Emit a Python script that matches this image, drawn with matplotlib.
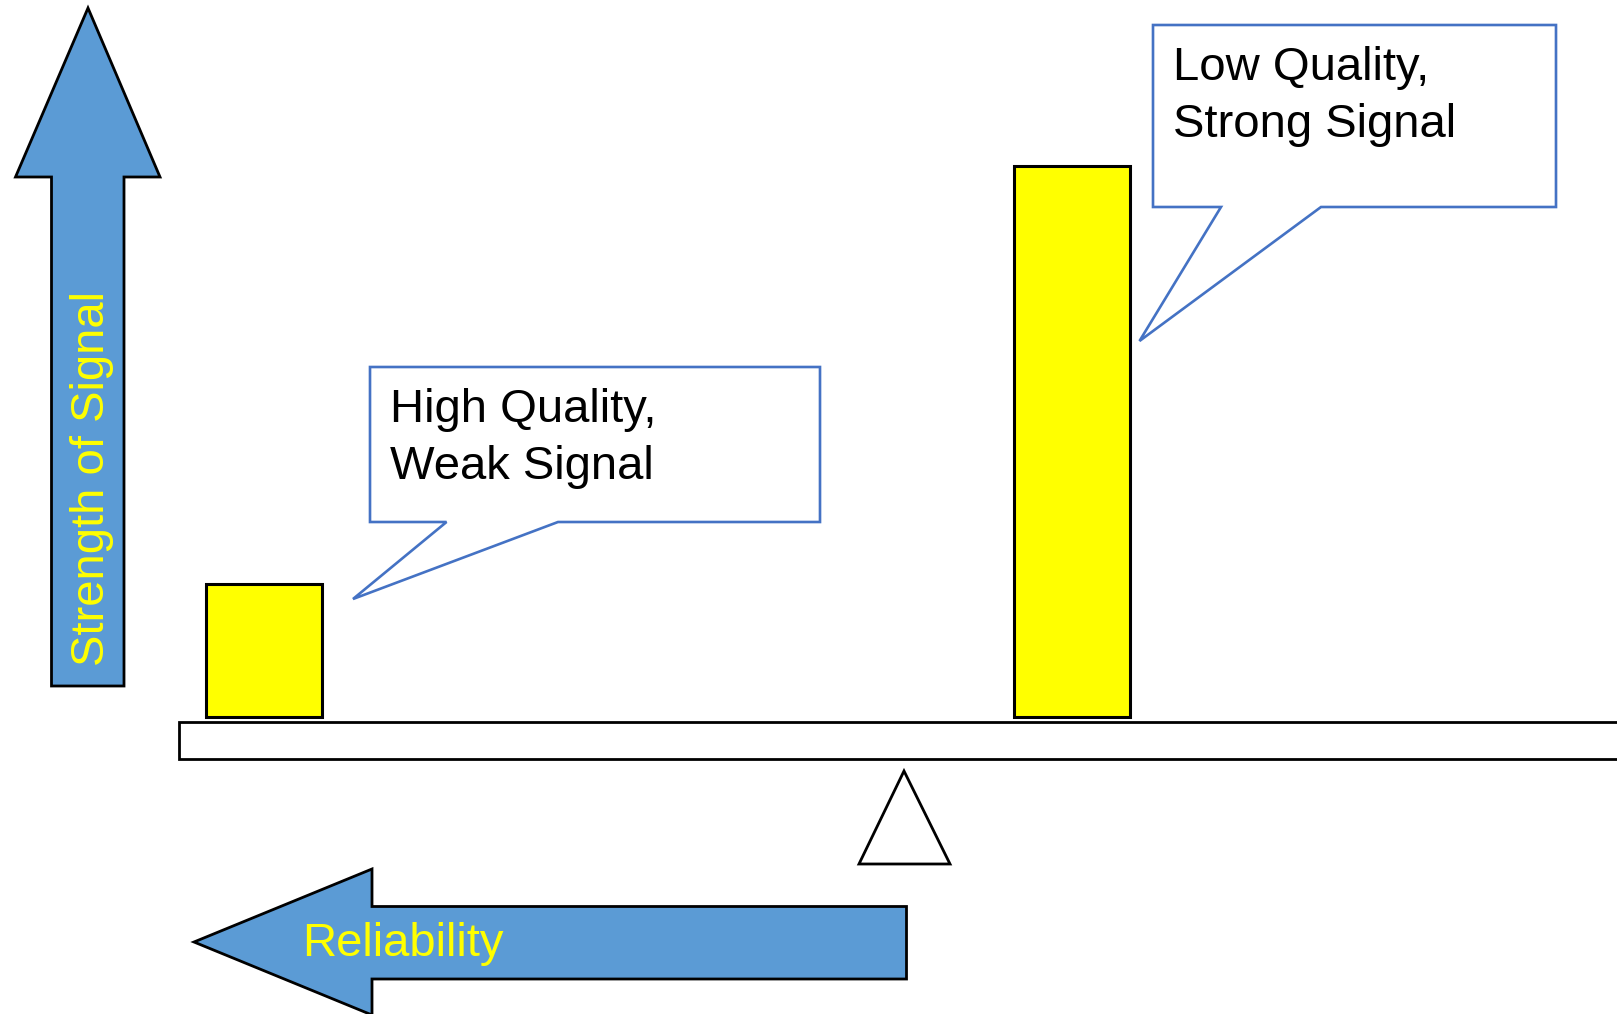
import matplotlib
matplotlib.use("Agg")
import matplotlib.pyplot as plt
from matplotlib.patches import Polygon, Rectangle

plt.rcParams['font.family'] = ['Liberation Sans', 'DejaVu Sans']

# Signals resting on the balance beam
categories = ["High Quality,\nWeak Signal", "Low Quality,\nStrong Signal"]
signal_strength = [133, 551]
bar_positions = [264, 1071.5]

axis_labels = ["Strength of Signal", "Reliability"]

W, H = 1617, 1014
fig = plt.figure(figsize=(W / 100, H / 100), dpi=100)
ax = fig.add_axes([0, 0, 1, 1])
ax.set_xlim(0, W)
ax.set_ylim(0, H)
ax.axis("off")

ARROW_BLUE = "#5B9BD5"
CALLOUT_BLUE = "#4472C4"
YELLOW = "#FFFF00"
FS = 34

# Balance beam and fulcrum
beam_bottom, beam_top = 255, 292
ax.add_patch(Rectangle((179, beam_bottom), 1500, beam_top - beam_bottom,
                       facecolor="white", edgecolor="black", lw=2, zorder=2))
ax.add_patch(Polygon([(859, 150), (904, 243), (950, 150)], closed=True,
                     facecolor="white", edgecolor="black", lw=2, zorder=2))

# Bars standing on the beam
ax.bar(bar_positions, signal_strength, width=116, bottom=beam_top + 5,
       color=YELLOW, edgecolor="black", linewidth=2.2, zorder=3)

# Vertical arrow: strength of signal
up_arrow = [(51.5, 328), (124, 328), (124, 837), (160, 837), (88, 1006),
            (15.5, 837), (51.5, 837)]
ax.add_patch(Polygon(up_arrow, closed=True, facecolor=ARROW_BLUE,
                     edgecolor="black", lw=2, zorder=2))
ax.text(92, 535, axis_labels[0], rotation=90, rotation_mode="anchor",
        ha="center", va="center", color=YELLOW, fontsize=FS, zorder=4)

# Horizontal arrow: reliability
left_arrow = [(906.5, 35), (906.5, 107.5), (372, 107.5), (372, 145),
              (194, 72), (372, -1), (372, 35)]
ax.add_patch(Polygon(left_arrow, closed=True, facecolor=ARROW_BLUE,
                     edgecolor="black", lw=2, zorder=2))
ax.text(302, 70, axis_labels[1], ha="left", va="center",
        color=YELLOW, fontsize=FS, zorder=4)


def callout(x0, x1, y0, y1, base_a, base_b, tip, label, tx, ty):
    verts = [(x0, y0), (base_a, y0), tip, (base_b, y0), (x1, y0),
             (x1, y1), (x0, y1)]
    ax.add_patch(Polygon(verts, closed=True, facecolor="white",
                         edgecolor=CALLOUT_BLUE, lw=1.9, zorder=5))
    # baseline of the last line sits at ty
    ax.text(tx, ty, label, ha="left", va="baseline", color="black",
            fontsize=FS, linespacing=1.38, zorder=6)


callout(370, 820, 492, 647, 446.5, 558, (353, 415), categories[0], 390, 535)
callout(1153, 1556, 807, 989, 1221, 1321, (1139.5, 673), categories[1], 1173, 877)

fig.savefig("out.png", dpi=100)
